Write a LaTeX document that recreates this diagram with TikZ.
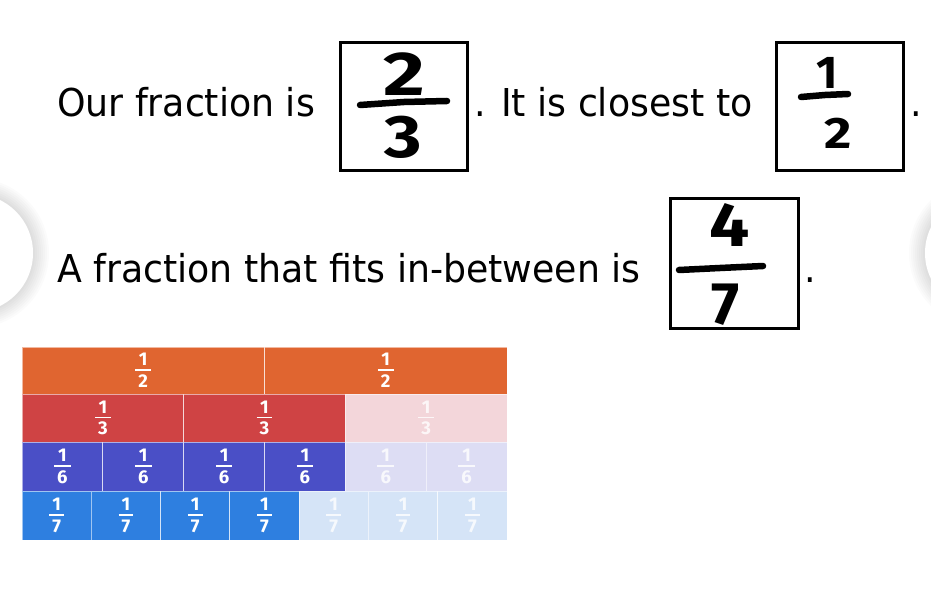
\documentclass[tikz,border=0pt]{standalone}
\usepackage{fontspec}
\newfontfamily\txtfont[FakeStretch=1.05]{DejaVu Sans Condensed}
\newfontfamily\cellfont{Fira Sans}
\newfontfamily\handfont{Fira Sans}
\definecolor{cOrange}{RGB}{224,101,48}
\definecolor{cRed}{RGB}{207,67,68}
\definecolor{cPink}{RGB}{243,214,218}
\definecolor{cIndigo}{RGB}{74,79,198}
\definecolor{cLav}{RGB}{221,221,244}
\definecolor{cBlue}{RGB}{46,127,224}
\definecolor{cLblue}{RGB}{213,228,247}
\newcommand\frc[1]{${\mbox{\rule[-2pt]{0pt}{2pt}\,1\,}\above1.6pt\mbox{\rule{0pt}{15pt}\,#1\,}}$}
\tikzset{
  sentence/.style={anchor=base west, inner sep=0pt, font=\txtfont\fontsize{38.4}{44}\selectfont},
  hbox/.style={draw=black, line width=3pt, fill=white},
  digit/.style={inner sep=0pt, font=\handfont\bfseries\fontsize{#1}{#1}\selectfont},
  hbar/.style={line width=6.5pt, line cap=round},
  cellline/.style={draw=white, draw opacity=0.55, line width=0.9pt},
  fraclbl/.style={text=white, inner sep=0pt, font=\cellfont\bfseries\fontsize{18.5}{22}\selectfont},
  faded/.style={text=white, text opacity=0.8, inner sep=0pt, font=\cellfont\bfseries\fontsize{18.5}{22}\selectfont},
}
\newcommand\fcell[7]{%
  \draw[cellline, fill=#6] (#2,#4) rectangle (#3,#5);
  \node[#7] at ({(#2+#3)/2},{(#4+#5)/2}) {\frc{#1}};}
\begin{document}
\begin{tikzpicture}[x=1pt,y=-1pt]
\useasboundingbox (0,0) rectangle (931,612);
\fill[white] (0,0) rectangle (931,612);
% side navigation circles with soft shadow
\coordinate (lc) at (-26,253);
\coordinate (rc) at (984,253);
\foreach \k in {16,14,...,2}{
  \fill[black, opacity=0.014] (lc) circle (59+\k);
  \fill[black, opacity=0.014] (rc) circle (59+\k);
}
\fill[white] (lc) circle (59);
\fill[white] (rc) circle (59);

% sentence 1
\node[sentence] (s1) at (57,117) {Our fraction is};
\node[hbox, minimum width=127pt, minimum height=128pt, inner sep=0pt] (b1) at (403.5,106.5) {};
\node[sentence] (s2) at (474,117) {. It is closest to};
\node[hbox, minimum width=127pt, minimum height=128pt, inner sep=0pt] (b2) at (840,106.5) {};
\node[sentence] (s3) at (910,117) {.};
% sentence 2
\node[sentence] (s4) at (57,282) {A fraction that fits in-between is};
\node[hbox, minimum width=128pt, minimum height=130pt, inner sep=0pt] (b3) at (734.5,263.5) {};
\node[sentence] (s5) at (804,282) {.};

% handwritten fractions
\node[digit=62, xscale=1.3] (n1) at (404,74) {2};
\draw[hbar] (360,105) -- (404,102) -- (447,101);
\node[digit=60, xscale=1.2] (d1) at (403,137) {3};

\node[digit=46] (n2) at (827,73) {1};
\draw[hbar] (801,97) -- (825,95) -- (848,94);
\node[digit=44, xscale=1.2] (d2) at (838,133) {2};

\node[digit=62, xscale=1.15] (n3) at (730,225) {4};
\draw[hbar] (679,270) -- (720,268) -- (763,266);
\node[digit=60] (d3) at (726,305) {7};

% fraction wall
\fcell{2}{22}{264.5}{347}{394}{cOrange}{fraclbl}
\fcell{2}{264.5}{507}{347}{394}{cOrange}{fraclbl}
\foreach \i in {0,1}{
  \pgfmathsetmacro\xa{22+485*\i/3}\pgfmathsetmacro\xb{22+485*(\i+1)/3}
  \fcell{3}{\xa}{\xb}{394}{442}{cRed}{fraclbl}}
\fcell{3}{345.3}{507}{394}{442}{cPink}{faded}
\foreach \i in {0,...,3}{
  \pgfmathsetmacro\xa{22+485*\i/6}\pgfmathsetmacro\xb{22+485*(\i+1)/6}
  \fcell{6}{\xa}{\xb}{442}{491}{cIndigo}{fraclbl}}
\foreach \i in {4,5}{
  \pgfmathsetmacro\xa{22+485*\i/6}\pgfmathsetmacro\xb{22+485*(\i+1)/6}
  \fcell{6}{\xa}{\xb}{442}{491}{cLav}{faded}}
\foreach \i in {0,...,3}{
  \pgfmathsetmacro\xa{22+485*\i/7}\pgfmathsetmacro\xb{22+485*(\i+1)/7}
  \fcell{7}{\xa}{\xb}{491}{540}{cBlue}{fraclbl}}
\foreach \i in {4,5,6}{
  \pgfmathsetmacro\xa{22+485*\i/7}\pgfmathsetmacro\xb{22+485*(\i+1)/7}
  \fcell{7}{\xa}{\xb}{491}{540}{cLblue}{faded}}
\end{tikzpicture}
\end{document}
